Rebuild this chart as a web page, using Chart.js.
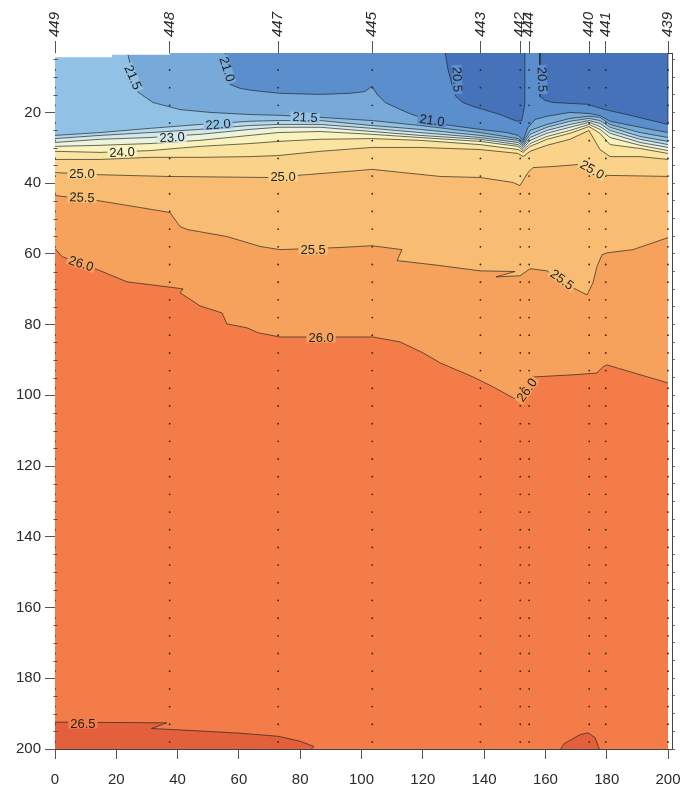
<!DOCTYPE html>
<html>
<head>
<meta charset="utf-8">
<script src="https://cdn.jsdelivr.net/npm/chart.js@4.4.1/dist/chart.umd.min.js"></script>
<style>
    html, body { margin: 0; padding: 0; background: #fff; }
</style>
</head>
<body>
<canvas id="section" width="682" height="794"></canvas>
<script>
// stations along the section (km) and their names on the top axis
const stationNames = ['449', '448', '447', '445', '443', '442', '444', '440', '441', '439']
const stationDist = [0, 37.4, 72.8, 103.5, 138.8, 151.8, 154.7, 174.3, 179.7, 200]

// bottle depths at every station (m)
const sampleDepths = [3, 8, 13, 18, 23, 28, 33, 38, 43, 48, 53, 58, 63, 68, 73, 78, 83, 88, 93, 98,
    103, 108, 113, 118, 123, 128, 133, 138, 143, 148, 153, 158, 163, 168, 173, 178, 183, 188, 193, 198]

const xTicks = [0, 20, 40, 60, 80, 100, 120, 140, 160, 180, 200]
const depthTicks = [20, 40, 60, 80, 100, 120, 140, 160, 180, 200]
const minorDepths = [5, 10, 15, 25, 30, 35, 45, 50, 55, 65, 70, 75, 85, 90, 95, 105, 110, 115, 125, 130, 135,
    145, 150, 155, 165, 170, 175, 185, 190, 195]

// band colour, keyed by the lower bound of the temperature band
const bandColors = {
    'lt20.5': '#4672ba',
    '20.5': '#5b8ecc',
    '21.0': '#77a9d9',
    '21.5': '#91c2e6',
    '22.0': '#b5d7ea',
    '22.5': '#d4e9ec',
    '23.0': '#edf4dc',
    '23.5': '#fbf3bd',
    '24.0': '#fbe4a0',
    '24.5': '#fad28a',
    '25.0': '#f8bd72',
    '25.5': '#f6a15c',
    '26.0': '#f37c49',
    '26.5': '#e45f3c',
}

// isotherms sampled on shared distance columns (depth in m)
const colX = [0, 14.7, 31.0, 47.3, 63.6, 72.8, 86.5, 103.4, 119.1, 138.7, 151.1, 152.7, 155.0, 160.5, 168.0, 174.2, 177.8, 181.1, 190.9, 200]
const d22_0 = [26.5, 25.7, 24.5, 23.4, 22.5, 22.3, 22.3, 23.7, 24.8, 26.5, 27.9, 29.1, 26.2, 24.2, 22.5, 21.7, 22.3, 24.2, 26.8, 28.2]
const d22_5 = [27.4, 26.5, 25.7, 24.8, 23.7, 23.4, 23.4, 24.5, 25.7, 27.1, 28.5, 29.6, 27.1, 25.1, 23.4, 22.3, 23.1, 25.1, 27.6, 29.1]
const d23_0 = [28.5, 27.6, 27.1, 26.2, 24.8, 24.2, 24.2, 25.4, 26.5, 27.6, 29.1, 30.2, 27.9, 25.9, 24.2, 22.8, 24.0, 25.9, 28.5, 29.9]
const d23_5 = [29.6, 29.3, 28.8, 27.9, 26.5, 25.7, 25.4, 26.2, 27.1, 28.2, 29.6, 30.8, 28.8, 26.8, 25.1, 23.4, 24.8, 27.1, 29.3, 30.8]
const d24_0 = [31.0, 31.3, 30.8, 29.6, 28.8, 28.2, 27.6, 27.4, 27.9, 29.1, 30.5, 31.3, 29.6, 27.6, 25.9, 24.0, 25.9, 29.1, 30.2, 31.6]
const d24_5 = [33.3, 33.3, 32.7, 32.7, 32.5, 32.2, 31.0, 29.9, 29.9, 30.5, 31.6, 32.5, 31.0, 29.3, 27.6, 25.1, 30.5, 32.5, 32.5, 33.3]

// isotherms with their own distance points
const x21_0 = [55.5, 56.1, 57.1, 60.4, 64.6, 73.4, 86.5, 96.2, 101.1, 103.4, 105.1, 107.7, 114.8, 119.1, 126.6, 138.7, 147.5, 151.1, 152.7, 154.3, 156.6, 160.5, 168.0, 174.2, 177.8, 181.1, 190.9, 200]
const d21_0 = [2.5, 7.8, 12.1, 13.2, 13.8, 14.6, 14.9, 14.6, 14.1, 12.6, 14.9, 17.2, 20.0, 21.4, 23.4, 24.8, 25.7, 26.5, 27.9, 24.3, 22.0, 21.1, 20.0, 20.3, 20.9, 22.5, 24.2, 25.7]
const x21_5 = [23.5, 24.5, 25.4, 27.1, 32.0, 40.8, 50.6, 63.6, 72.8, 86.5, 103.4, 119.1, 138.7, 151.1, 152.7, 155.0, 160.5, 168.0, 174.2, 177.8, 181.1, 190.9, 200]
const d21_5 = [2.5, 6.4, 10.7, 14.3, 17.2, 19.2, 20.0, 20.6, 20.8, 21.4, 22.3, 23.7, 25.7, 27.4, 28.5, 25.1, 23.4, 21.7, 21.1, 21.4, 23.4, 25.7, 27.1]
const x25_0 = [0, 13.7, 36.5, 69.2, 82.2, 99.5, 103.4, 125.6, 138.7, 149.4, 151.7, 154.3, 156.0, 162.5, 171.3, 176.2, 180.1, 200]
const d25_0 = [37.0, 37.6, 38.1, 38.4, 37.6, 36.4, 36.1, 38.1, 38.4, 39.8, 40.7, 37.0, 35.6, 35.3, 34.7, 36.2, 37.8, 38.1]
const x25_5 = [0, 13.7, 22.2, 32.0, 37.5, 40.8, 43.1, 56.1, 66.9, 73.4, 93.0, 103.4, 113.2, 111.6, 125.6, 138.7, 150.1, 143.9, 151.7, 155.0, 160.5, 169.0, 173.6, 175.5, 176.8, 178.5, 180.1, 188.6, 200]
const d25_5 = [43.5, 44.9, 46.1, 47.5, 48.3, 52.3, 53.1, 55.1, 57.9, 58.8, 58.2, 57.7, 58.8, 61.9, 63.3, 64.8, 65.0, 66.5, 66.2, 64.2, 64.8, 69.6, 71.6, 68.2, 63.6, 60.2, 59.7, 58.8, 55.4]
const x26_0 = [0, 2.3, 14.0, 23.5, 36.5, 41.8, 40.8, 47.3, 54.5, 56.1, 62.6, 66.2, 73.4, 103.8, 112.6, 120.1, 125.6, 136.4, 142.9, 150.7, 156.0, 169.0, 176.8, 178.8, 180.1, 200]
const d26_0 = [58.5, 60.8, 64.5, 67.9, 69.3, 69.9, 71.0, 74.7, 76.7, 79.8, 80.9, 82.3, 83.5, 83.5, 84.9, 88.0, 90.8, 94.8, 97.6, 101.3, 94.8, 94.2, 93.7, 91.9, 91.4, 96.5]

// closed patches: coldest water at the surface, warmest near the bottom
const x20_5a = [127.2, 128.2, 129.5, 130.8, 133.1, 136.4, 145.2, 150.7, 152.3, 153.3, 153.3]
const d20_5a = [2.5, 7.8, 12.1, 15.5, 17.2, 18.3, 20.6, 22.5, 22.3, 17.7, 2.5]
const x20_5b = [158.2, 158.2, 159.9, 162.5, 173.6, 179.4, 186.6, 200, 200]
const d20_5b = [2.5, 15.5, 16.6, 17.2, 17.7, 19.2, 20.6, 23.4, 2.5]
const x26_5a = [0, 36.5, 31.5, 45.0, 60.0, 72.8, 80.0, 84.5, 83.0, 0]
const d26_5a = [192.4, 192.6, 194.2, 194.8, 195.5, 196.4, 197.8, 199.3, 200.5, 200.5]
const x26_5b = [164.6, 166.1, 171.2, 173.9, 176.2, 177.8]
const d26_5b = [200.5, 198.5, 196.0, 195.4, 196.8, 200.5]

// no data at the very top of the first two stations
const xNoData = [0, 37.5, 37.5, 18.6, 18.6, 0]
const dNoData = [2, 2, 3.7, 3.7, 4.4, 4.4]

// contour labels
const labelText = ['21.5', '21.0', '22.0', '21.5', '23.0', '24.0', '25.0', '25.0', '25.5', '26.0', '25.5', '26.0', '21.0', '20.5', '20.5', '25.0', '25.5', '26.0', '26.5']
const labelX = [25.4, 56.1, 53.2, 81.6, 38.2, 21.9, 8.8, 74.4, 8.8, 8.5, 84.2, 86.8, 123.0, 131.2, 158.9, 175.2, 165.4, 154.0, 9.1]
const labelD = [10.1, 7.8, 23.4, 21.4, 27.1, 31.3, 37.3, 38.1, 44.1, 62.8, 58.8, 83.7, 22.3, 10.7, 10.7, 36.2, 67.3, 98.5, 192.8]
const labelAngle = [66, 72, -4, 3, -3, -2, 0, 0, 2, 18, 0, 0, 8, 88, 88, 30, 36, -55, 0]
const labelBand = ['21.5', '21.0', '21.5', '21.5', '22.5', '23.5', '24.5', '24.5', '25.0', '25.5', '25.0', '25.5', '20.5', '20.5', '20.5', '24.5', '25.0', '25.5', '26.0']

const fontFamily = '"Liberation Sans", Arial, sans-serif'
const lineColor = 'rgba(35, 35, 35, 0.85)'

function toPoints(xs, ds) {
    return xs.map((x, i) => ({ x, y: ds[i] }))
}

// isotherm filled up to the surface with the colour of the band above it
function isotherm(xs, ds, band) {
    return {
        data: toPoints(xs, ds),
        fill: 'end',
        backgroundColor: bandColors[band],
        borderColor: lineColor,
        borderWidth: 0.8,
        pointRadius: 0,
        tension: 0,
    }
}

function patch(xs, ds, band, borderWidth = 0.8) {
    return {
        data: toPoints(xs, ds),
        fill: 'shape',
        backgroundColor: band === 'white' ? '#ffffff' : bandColors[band],
        borderColor: lineColor,
        borderWidth,
        pointRadius: 0,
        tension: 0,
    }
}

// painted in this order, deepest first
const datasets = [
    isotherm([0, 200], [200.5, 200.5], '26.0'),
    patch(x26_5a, d26_5a, '26.5'),
    patch(x26_5b, d26_5b, '26.5'),
    isotherm(x26_0, d26_0, '25.5'),
    isotherm(x25_5, d25_5, '25.0'),
    isotherm(x25_0, d25_0, '24.5'),
    isotherm(colX, d24_5, '24.0'),
    isotherm(colX, d24_0, '23.5'),
    isotherm(colX, d23_5, '23.0'),
    isotherm(colX, d23_0, '22.5'),
    isotherm(colX, d22_5, '22.0'),
    isotherm(colX, d22_0, '21.5'),
    isotherm(x21_5, d21_5, '21.0'),
    isotherm(x21_0, d21_0, '20.5'),
    patch(x20_5a, d20_5a, 'lt20.5'),
    patch(x20_5b, d20_5b, 'lt20.5'),
    patch(xNoData, dNoData, 'white', 0),
    {
        data: stationDist.flatMap(x => sampleDepths.map(d => ({ x, y: d }))),
        showLine: false,
        fill: false,
        pointRadius: 0.9,
        pointBackgroundColor: '#2b2b2b',
        pointBorderWidth: 0,
    },
]
datasets[0].borderWidth = 0
datasets.forEach((d, i) => { d.order = datasets.length - i })

const contourLabels = {
    id: 'contourLabels',
    afterDatasetsDraw(chart) {
        const { ctx, scales: { x, y } } = chart
        ctx.save()
        ctx.font = '13px ' + fontFamily
        ctx.textAlign = 'center'
        ctx.textBaseline = 'middle'
        labelText.forEach((t, i) => {
            ctx.save()
            ctx.translate(x.getPixelForValue(labelX[i]), y.getPixelForValue(labelD[i]))
            ctx.rotate(labelAngle[i] * Math.PI / 180)
            const w = ctx.measureText(t).width
            ctx.fillStyle = bandColors[labelBand[i]]
            ctx.fillRect(-w / 2 - 2, -5, w + 4, 10)
            ctx.fillStyle = '#1e1e1e'
            ctx.fillText(t, 0, 0.5)
            ctx.restore()
        })
        ctx.restore()
    }
}

const axisDecor = {
    id: 'axisDecor',
    afterDraw(chart) {
        const { ctx, chartArea, scales: { x, y } } = chart
        ctx.save()
        // minor depth ticks on the left frame
        ctx.strokeStyle = '#555'
        ctx.lineWidth = 1
        minorDepths.forEach(d => {
            const py = Math.round(y.getPixelForValue(d)) + 0.5
            ctx.beginPath()
            ctx.moveTo(chartArea.left - 1.5, py)
            ctx.lineTo(chartArea.left + 2.5, py)
            ctx.stroke()
        })
        // station names, rotated, above the top axis
        ctx.fillStyle = '#2a2a2a'
        ctx.font = 'italic 15px ' + fontFamily
        ctx.textAlign = 'left'
        ctx.textBaseline = 'middle'
        stationNames.forEach((name, i) => {
            ctx.save()
            ctx.translate(x.getPixelForValue(stationDist[i]), 37)
            ctx.rotate(-Math.PI / 2)
            ctx.fillText(name, 0, 0)
            ctx.restore()
        })
        ctx.restore()
    }
}

const axisFont = { size: 15, family: fontFamily }

// keep the plot frame fixed: no extra room for overhanging tick labels
function fixHeight(h) {
    return s => { s.height = h; s.paddingLeft = 0; s.paddingRight = 0 }
}

new Chart(document.getElementById('section'), {
    type: 'line',
    data: { datasets },
    options: {
        responsive: false,
        animation: false,
        events: [],
        devicePixelRatio: 1,
        layout: { padding: 0 },
        plugins: { legend: { display: false }, tooltip: { enabled: false } },
        scales: {
            x: {
                type: 'linear',
                position: 'bottom',
                min: 0,
                max: 201.3,
                afterBuildTicks: s => { s.ticks = xTicks.map(v => ({ value: v })) },
                afterFit: fixHeight(45),
                ticks: { color: '#2b2b2b', font: axisFont, padding: 12, maxRotation: 0, autoSkip: false },
                grid: { drawOnChartArea: false, tickLength: 10, color: '#555' },
                border: { color: '#444' },
            },
            x2: {
                type: 'linear',
                position: 'top',
                min: 0,
                max: 201.3,
                afterBuildTicks: s => { s.ticks = stationDist.map(v => ({ value: v })) },
                afterFit: fixHeight(53),
                ticks: { display: false },
                grid: { drawOnChartArea: false, tickLength: 12, color: '#555' },
                border: { color: '#444' },
            },
            y: {
                type: 'linear',
                position: 'left',
                reverse: true,
                min: 3.2,
                max: 200,
                afterBuildTicks: s => { s.ticks = depthTicks.map(v => ({ value: v })) },
                afterFit: s => { s.width = 55; s.paddingTop = 0; s.paddingBottom = 0 },
                ticks: { color: '#2b2b2b', font: axisFont, padding: 4, autoSkip: false },
                grid: { drawOnChartArea: false, tickLength: 10, color: '#555' },
                border: { color: '#444' },
            },
            y2: {
                type: 'linear',
                position: 'right',
                reverse: true,
                min: 3.2,
                max: 200,
                afterBuildTicks: s => { s.ticks = minorDepths.concat(depthTicks).map(v => ({ value: v })) },
                afterFit: s => { s.width = 10; s.paddingTop = 0; s.paddingBottom = 0 },
                ticks: { display: false },
                grid: { drawOnChartArea: false, tickLength: 3, color: '#777' },
                border: { color: '#444' },
            },
        },
    },
    plugins: [contourLabels, axisDecor],
})
</script>
</body>
</html>
